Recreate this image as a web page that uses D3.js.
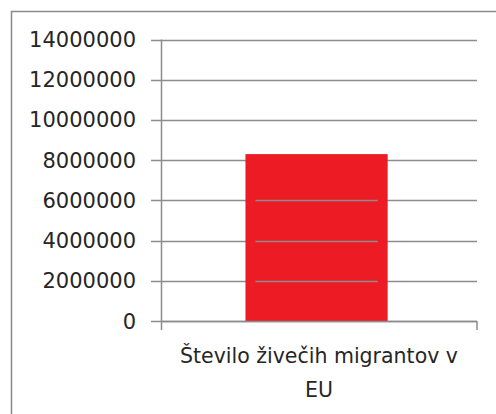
<!DOCTYPE html>
<html>
<head>
<meta charset="utf-8">
<script src="https://cdn.jsdelivr.net/npm/d3@7"></script>
<style>
  body { margin: 0; background: #fff; }
  svg { display: block; }
</style>
</head>
<body>
<script>
// data
const categories = ["Število živečih migrantov v EU"];
const values = [8300000];
const tickValues = [0, 2000000, 4000000, 6000000, 8000000, 10000000, 12000000, 14000000];

const width = 496, height = 414;
const plot = { left: 161, right: 477, top: 39.5, bottom: 321 };
const gridColor = "#8c8c8c";
const barColor = "#ed1c24";

const svg = d3.select("body").append("svg")
    .attr("width", width)
    .attr("height", height);

// outer chart frame (runs off the picture on the right and bottom)
svg.append("rect")
    .attr("x", 11.5).attr("y", 11.5)
    .attr("width", 500).attr("height", 420)
    .attr("fill", "none")
    .attr("stroke", "#8a8a8a")
    .attr("stroke-width", 1.5);

const x = d3.scaleBand()
    .domain(categories)
    .range([plot.left, plot.right])
    .paddingInner(0.55)
    .paddingOuter(0.27)
    .align(0.486);

const y = d3.scaleLinear()
    .domain([0, 14000000])
    .range([plot.bottom, plot.top]);

// gridlines + tick marks (start left of the axis)
svg.append("g")
    .selectAll("line")
    .data(tickValues)
    .join("line")
    .attr("x1", plot.left - 10)
    .attr("x2", plot.right)
    .attr("y1", d => Math.round(y(d)) + 0.5)
    .attr("y2", d => Math.round(y(d)) + 0.5)
    .attr("stroke", gridColor)
    .attr("stroke-width", 1.5);

// bar
svg.append("g")
    .selectAll("rect")
    .data(values)
    .join("rect")
    .attr("x", (d, i) => x(categories[i]))
    .attr("y", d => y(d))
    .attr("width", x.bandwidth())
    .attr("height", d => y(0) - y(d))
    .attr("fill", barColor);

// the gridlines show through the bar a little inset (Excel quirk),
// only those well below the bar top
svg.append("g")
    .selectAll("line")
    .data(tickValues.filter(t => t > 0 && y(t) - y(values[0]) > 20))
    .join("line")
    .attr("x1", x(categories[0]) + 10)
    .attr("x2", x(categories[0]) + x.bandwidth() - 10)
    .attr("y1", d => Math.round(y(d)) + 0.5)
    .attr("y2", d => Math.round(y(d)) + 0.5)
    .attr("stroke", gridColor)
    .attr("stroke-width", 1.5);

// value axis line
svg.append("line")
    .attr("x1", plot.left + 0.5).attr("x2", plot.left + 0.5)
    .attr("y1", plot.top).attr("y2", plot.bottom + 9)
    .attr("stroke", gridColor)
    .attr("stroke-width", 1.5);

// category axis line + right tick
svg.append("line")
    .attr("x1", plot.left).attr("x2", plot.right)
    .attr("y1", Math.round(y(0)) + 0.5).attr("y2", Math.round(y(0)) + 0.5)
    .attr("stroke", gridColor)
    .attr("stroke-width", 1.5);
svg.append("line")
    .attr("x1", plot.right).attr("x2", plot.right)
    .attr("y1", plot.bottom).attr("y2", plot.bottom + 9)
    .attr("stroke", gridColor)
    .attr("stroke-width", 1.5);

// tick labels
svg.append("g")
    .selectAll("text")
    .data(tickValues)
    .join("text")
    .attr("x", 136)
    .attr("y", d => y(d))
    .attr("dy", "0.36em")
    .attr("text-anchor", "end")
    .attr("font-family", "DejaVu Sans")
    .attr("font-size", 21)
    .attr("fill", "#262626")
    .text(d => d3.format("d")(d));

// category label, wrapped in two lines
const words = categories[0].split(" ");
const catLines = [words.slice(0, -1).join(" "), words[words.length - 1]];
svg.append("text")
    .attr("x", (plot.left + plot.right) / 2)
    .attr("y", 363)
    .attr("text-anchor", "middle")
    .attr("font-family", "DejaVu Sans")
    .attr("font-size", 20.5)
    .attr("fill", "#262626")
    .selectAll("tspan")
    .data(catLines)
    .join("tspan")
    .attr("x", (plot.left + plot.right) / 2)
    .attr("dy", (d, i) => i === 0 ? 0 : 34)
    .text(d => d);
</script>
</body>
</html>
